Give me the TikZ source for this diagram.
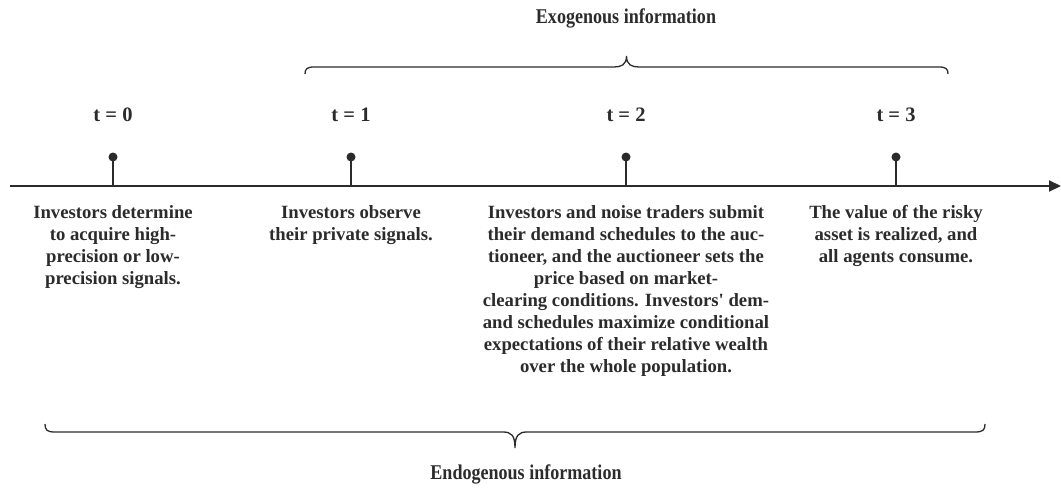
\documentclass[tikz,border=0pt]{standalone}
\usepackage{fontspec}
\setmainfont{Liberation Serif}[Ligatures=TeXOff]
\usetikzlibrary{arrows.meta}
\definecolor{ink}{HTML}{2B2B2B}
\begin{document}
\begin{tikzpicture}[x=1pt,y=-1pt,
  txt/.style={font=\bfseries\fontsize{18.7}{22}\selectfont, text=ink, align=center, inner sep=0pt, anchor=north},
  tlabel/.style={font=\bfseries\fontsize{20.5}{22}\selectfont, text=ink, inner sep=0pt},
  title/.style={font=\bfseries\fontsize{21}{22}\selectfont, text=ink, inner sep=0pt},
  stem/.style={draw=ink, line width=1.6pt},
  dotmark/.style={circle, fill=ink, inner sep=0pt, minimum size=9pt},
  bracestyle/.style={draw=ink, line width=1.3pt}
]
\useasboundingbox (0,0) rectangle (1061,498);
% axis
\coordinate (axL) at (10,186);
\coordinate (axR) at (1061,186);
\draw[draw=ink, line width=2pt, -{Triangle[length=12pt,width=11pt]}] (axL) -- (axR);
% ticks
\foreach \i/\x in {0/113,1/351,2/626,3/896}{
  \coordinate (b\i) at (\x,186);
  \node[dotmark] (d\i) at (\x,157) {};
  \draw[stem] (b\i) -- (d\i.center);
  \node[tlabel] (t\i) at (\x,115) {t = \i};
}
% descriptions
\node[txt] (e0) at (113,205) {Investors determine\\to acquire high-\\precision or low-\\precision signals.};
\node[txt] (e1) at (351,205) {Investors observe\\their private signals.};
\node[txt] (e2) at (626,205) {Investors and noise traders submit\\their demand schedules to the auc-\\tioneer, and the auctioneer sets the\\price based on market-\\clearing conditions. Investors' dem-\\and schedules maximize conditional\\expectations of their relative wealth\\over the whole population.};
\node[txt] (e3) at (896,205) {The value of the risky\\asset is realized, and\\all agents consume.};
% exogenous brace
\coordinate (xa) at (305,74);
\coordinate (xtip) at (626.5,56);
\coordinate (xb) at (948,74);
\draw[bracestyle] (xa) .. controls (305,69) and (307,67) .. (314,67)
  -- (614,67) .. controls (621,67) and (626.5,65) .. (xtip)
  .. controls (626.5,65) and (632,67) .. (639,67)
  -- (939,67) .. controls (946,67) and (948,69) .. (xb);
\node[title] (xo) at (626,18) {\scalebox{0.86}[1]{Exogenous information}};
% endogenous brace
\coordinate (na) at (45,424);
\coordinate (ntip) at (515,448);
\coordinate (nb) at (985,424);
\draw[bracestyle] (na) .. controls (45,430) and (47,432) .. (55,432)
  -- (503,432) .. controls (511,432) and (515,435) .. (ntip)
  .. controls (515,435) and (519,432) .. (527,432)
  -- (975,432) .. controls (983,432) and (985,430) .. (nb);
\node[title] (en) at (526,474) {\scalebox{0.86}[1]{Endogenous information}};
\end{tikzpicture}
\end{document}
